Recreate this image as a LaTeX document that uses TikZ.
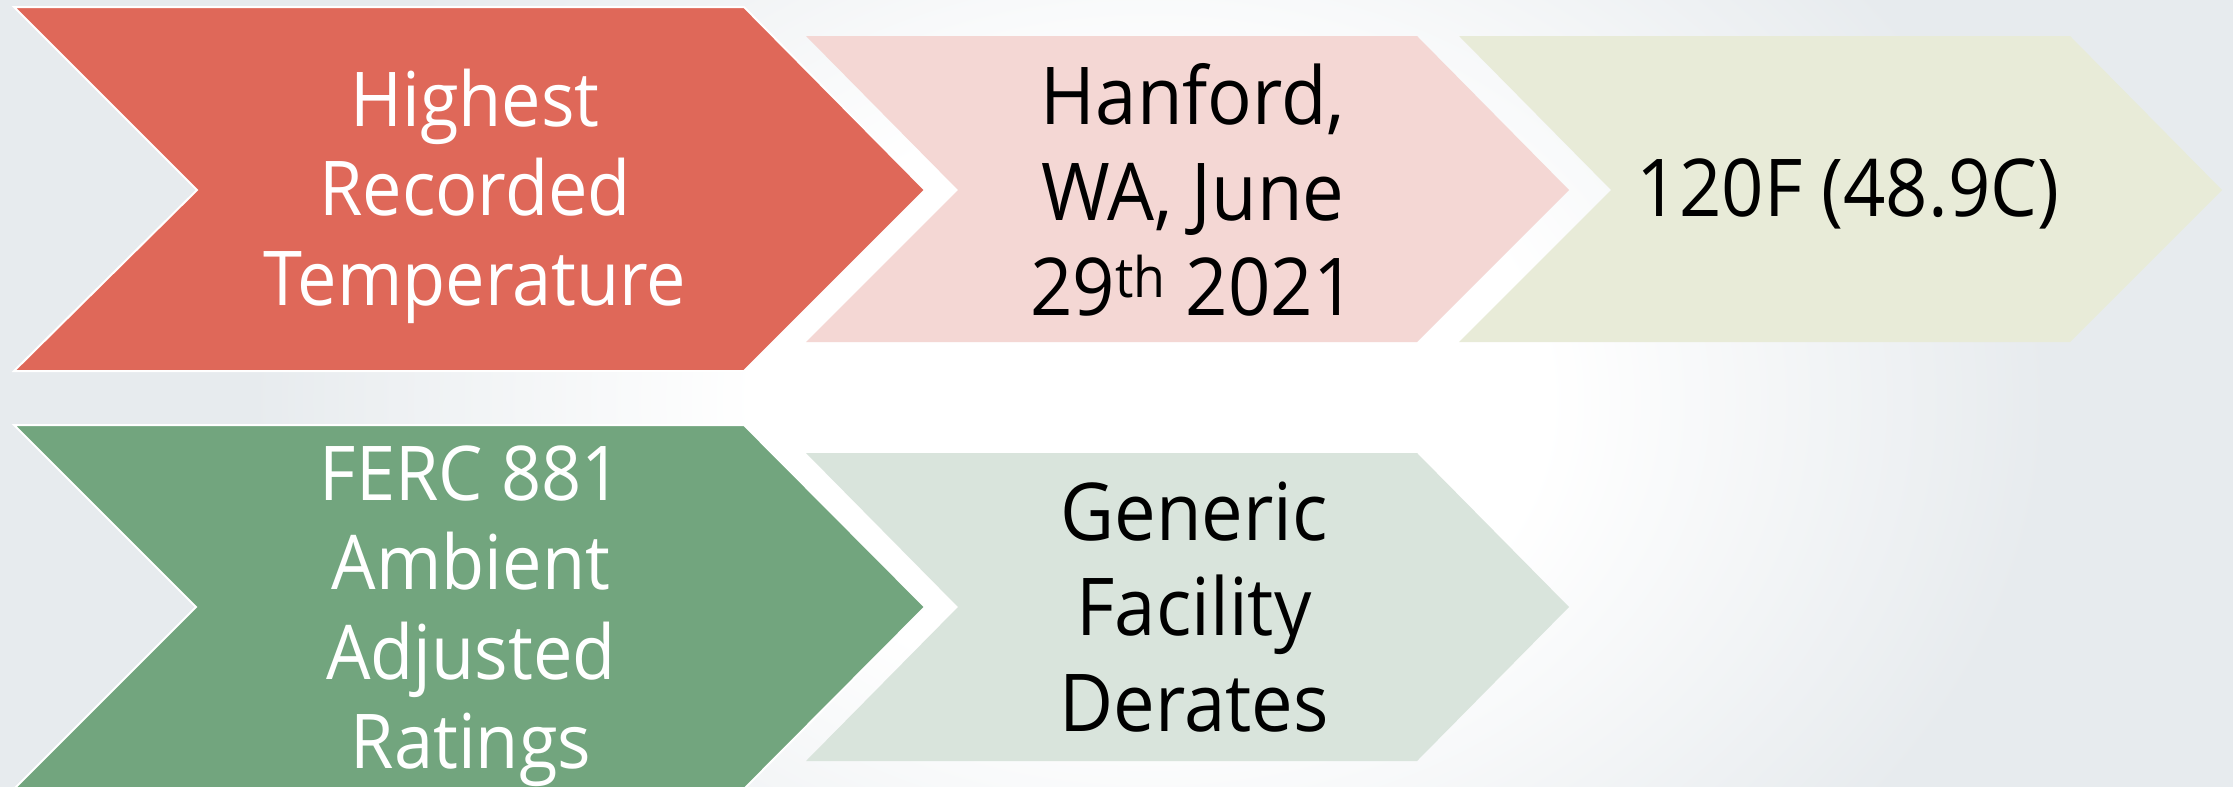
\documentclass[tikz,border=0pt]{standalone}
\usepackage{fontspec}
\setmainfont[FakeStretch=0.93]{Open Sans}
\usepackage{xcolor}

\definecolor{heatred}{RGB}{223,104,89}
\definecolor{heatpink}{RGB}{244,215,212}
\definecolor{heatsand}{RGB}{232,235,216}
\definecolor{rategreen}{RGB}{114,165,126}
\definecolor{ratemint}{RGB}{217,228,220}
\definecolor{backgrey}{RGB}{231,235,238}

% soft white glow behind the chevrons
\pgfdeclareradialshading{backglow}{\pgfpoint{0bp}{0bp}}{color(0bp)=(white); color(11bp)=(white); color(25bp)=(backgrey); color(50bp)=(backgrey)}

\begin{document}
\begin{tikzpicture}[x=0.5pt,y=0.5pt,yscale=-1,xscale=1,
    firstchevron/.style={draw=white, line width=1pt, line join=miter},
    nextchevron/.style={draw=none},
    lighttext/.style={text=white, align=center, inner sep=0pt, font=\fontsize{37.8}{44.75}\selectfont},
    darktext/.style={text=black, align=center, inner sep=0pt, font=\fontsize{39.9}{47.75}\selectfont}]

    \useasboundingbox (0,0) rectangle (2233,787);

    % backdrop
    \fill [backgrey] (0,0) rectangle (2233,787);
    \begin{scope}
        \clip (0,0) rectangle (2233,787);
        \shade [shading=backglow] (250,-280) rectangle (2050,1080);
    \end{scope}

    % top row
    \draw [firstchevron, fill=heatred] (14,7) -- (744,7) -- (925,190) -- (744,371) -- (14,371) -- (197,190) -- cycle ;
    \draw [nextchevron, fill=heatpink] (806,36) -- (1417,36) -- (1569,190) -- (1417,342) -- (806,342) -- (958,190) -- cycle ;
    \draw [nextchevron, fill=heatsand] (1459,36) -- (2070,36) -- (2222,190) -- (2070,342) -- (1459,342) -- (1611,190) -- cycle ;

    % bottom row
    \draw [firstchevron, fill=rategreen] (14,425) -- (744,425) -- (925,607) -- (744,789) -- (14,789) -- (196,607) -- cycle ;
    \draw [nextchevron, fill=ratemint] (806,453) -- (1417,453) -- (1569,607) -- (1417,761) -- (806,761) -- (958,607) -- cycle ;

    \node [lighttext] (highest) at (475,196) {Highest\\Recorded\\Temperature};
    \node [darktext] (hanford) at (1193,190) {Hanford,\\WA, June\\29\textsuperscript{th} 2021};
    \node [darktext] (peak) at (1848,194) {120F (48.9C)};
    \node [lighttext] (ferc) at (471,616) {FERC 881\\Ambient\\Adjusted\\Ratings};
    \node [darktext] (derates) at (1194,607) {Generic\\Facility\\Derates};
\end{tikzpicture}
\end{document}
